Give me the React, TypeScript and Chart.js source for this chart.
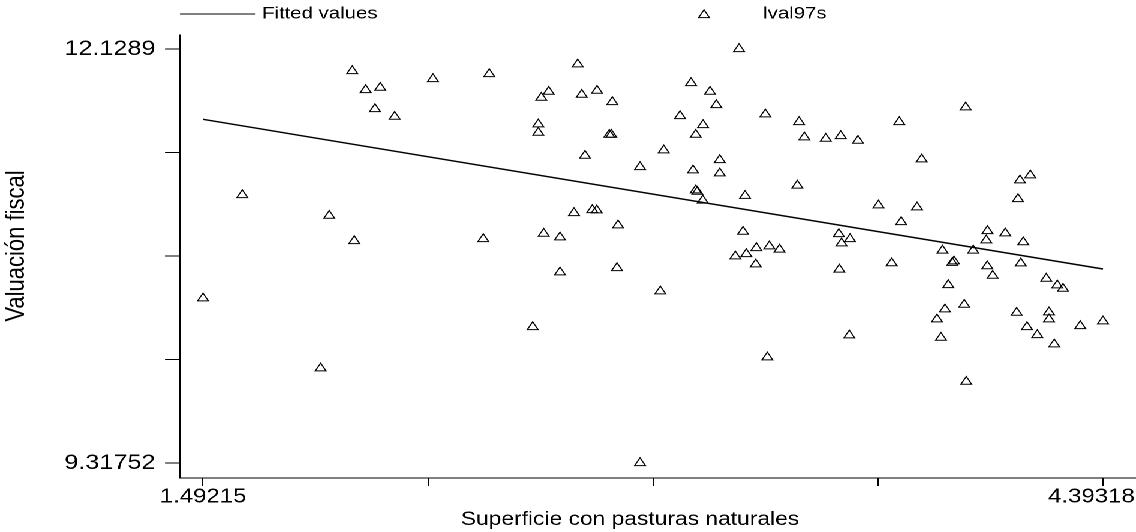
import React, { useEffect, useRef } from 'react';
import { Chart, registerables } from 'chart.js';

Chart.register(...registerables);

// ---- data ----
const seriesNames = ['Fitted values', 'lval97s'];
const xTitle = 'Superficie con pasturas naturales';
const yTitle = 'Valuación fiscal';

const xValues = [
  1.49215, 1.6188, 1.8715, 1.8993, 1.9734, 1.9799, 2.0166, 2.0466, 2.0637, 2.1101, 2.2335, 2.3957, 2.415,
  2.5549, 2.573, 2.573, 2.5826, 2.5904, 2.6065, 2.6429, 2.6429, 2.688, 2.7, 2.7129, 2.7235, 2.747, 2.7612, 2.7622,
  2.8018, 2.8083, 2.8115, 2.8266, 2.8299, 2.9008, 2.9008, 2.9662, 2.9772, 3.0297, 3.0652, 3.0716, 3.0803, 3.0803,
  3.0855, 3.1029, 3.1039, 3.1264, 3.1467, 3.1577, 3.1577, 3.208, 3.2199, 3.2328, 3.2392, 3.2434, 3.2737, 3.2757,
  3.3047, 3.3111, 3.3176, 3.3504,
  3.4078, 3.4133, 3.4304, 3.4994, 3.5416, 3.5432, 3.5477, 3.5503, 3.5754, 3.5777, 3.6035, 3.6696, 3.7121, 3.7366,
  3.7427, 3.7937, 3.8088, 3.8581, 3.871, 3.8759, 3.8839, 3.8946, 3.9074, 3.9129, 3.9461, 3.9506, 3.9526, 3.9751,
  4.017, 4.0209, 4.0203, 4.0377, 4.0783, 4.115, 4.1192, 4.1257, 4.1282, 4.1363, 4.1482, 4.1589, 4.1814, 4.2104,
  4.2192, 4.2192, 4.2362, 4.2459, 4.2643, 4.32, 4.39318,
];

const yValues = [
  10.4359, 11.1374, 9.9606, 10.9969, 11.9795, 10.8251, 11.8505, 11.7214, 11.8661, 11.6691, 11.9252, 10.8386, 11.9591,
  10.241, 11.6175, 11.5605, 11.7982, 10.8746, 11.8389, 10.8502, 10.6125, 11.0152, 12.025, 11.8185, 11.4043, 11.0356,
  11.0335, 11.8457, 11.5469, 11.5469, 11.769, 10.6417, 10.9317, 11.3276, 9.31752, 10.4835, 11.441, 11.6739, 11.898,
  11.3052, 11.5469, 11.1694, 11.1599, 11.1001, 11.6128, 11.8389, 11.7486, 11.3751, 11.2848, 10.7212, 12.1289,
  10.8882, 11.132, 10.7368, 10.6668, 10.7775, 11.6854, 10.0353, 10.7891, 10.7673,
  11.2019, 11.6332, 11.5293, 11.5198, 10.8726, 10.6315, 11.5381, 10.8094, 10.1847, 10.8386, 11.5062, 11.0675,
  10.6743, 11.6332, 10.9541, 11.0539, 11.3799, 10.2933, 10.1684, 10.7605, 10.3612, 10.5263, 10.677, 10.6872,
  10.3925, 11.733, 9.8696, 10.7605, 10.8298, 10.893, 10.6539, 10.5894, 10.8773, 10.3382, 11.1103, 11.2372, 10.6736,
  10.8169, 10.241, 11.2712, 10.1867, 10.5697, 10.3409, 10.2933, 10.1236, 10.5242, 10.5011, 10.2478, 10.2798,
];

const fitX = [1.49215, 4.39318];
const fitY = [11.6515, 10.6349];

const xTickValues = [1.49215, 2.21741, 2.94267, 3.66792, 4.39318];
const xTickLabels = ['1.49215', '', '', '', '4.39318'];
const yTickValues = [9.31752, 10.02036, 10.72321, 11.42605, 12.1289];
const yTickLabels = ['9.31752', '', '', '', '12.1289'];

const xRange = [1.41801, 4.49955];
const yRange = [9.21566, 12.22397];

// ---- layout ----
const SCREEN_W = 1136;
const CANVAS_W = 947;
const H = 532;
const S = SCREEN_W / CANVAS_W;
const FONT = '"Liberation Sans", Arial, Helvetica, sans-serif';

const overlayPlugin = {
  id: 'overlay',
  afterDraw(chart: any) {
    const ctx = chart.ctx as CanvasRenderingContext2D;
    const xs = chart.scales.x;
    ctx.save();
    ctx.fillStyle = '#000';
    ctx.strokeStyle = '#000';

    // x tick labels (kept inside the canvas like the reference)
    ctx.font = `20px ${FONT}`;
    ctx.textBaseline = 'middle';
    ctx.textAlign = 'center';
    xTickValues.forEach((v, i) => {
      const label = xTickLabels[i];
      if (!label) return;
      const w = ctx.measureText(label).width;
      let px = xs.getPixelForValue(v);
      px = Math.min(px, CANVAS_W - 1 - w / 2);
      ctx.fillText(label, px, 497);
    });

    // legend
    ctx.font = `17px ${FONT}`;
    ctx.textAlign = 'left';
    ctx.lineWidth = 1;
    ctx.beginPath();
    ctx.moveTo(180 / S, 14);
    ctx.lineTo(255 / S, 14);
    ctx.stroke();
    ctx.fillText(seriesNames[0], 262 / S, 14);
    const r = 5.2;
    const mx = 704 / S;
    const my = 15;
    ctx.beginPath();
    ctx.moveTo(mx, my - r);
    ctx.lineTo(mx + r * Math.sin((2 * Math.PI) / 3), my - r * Math.cos((2 * Math.PI) / 3));
    ctx.lineTo(mx + r * Math.sin((4 * Math.PI) / 3), my - r * Math.cos((4 * Math.PI) / 3));
    ctx.closePath();
    ctx.stroke();
    ctx.fillText(seriesNames[1], 763 / S, 14);

    // axis titles
    ctx.textAlign = 'center';
    ctx.font = `19px ${FONT}`;
    ctx.fillText(xTitle, 630 / S, 520);
    ctx.font = `22px ${FONT}`;
    ctx.translate(17 / S, 246);
    ctx.rotate(-Math.PI / 2);
    ctx.fillText(yTitle, 0, 0);
    ctx.restore();
  },
};

export default function App() {
  const ref = useRef<HTMLCanvasElement | null>(null);

  useEffect(() => {
    if (!ref.current) return;
    const points = xValues.map((x, i) => ({ x, y: yValues[i] }));
    const fit = fitX.map((x, i) => ({ x, y: fitY[i] }));
    const tickFont = { family: FONT, size: 21 };

    const chart = new Chart(ref.current, {
      type: 'scatter',
      data: {
        datasets: [
          {
            type: 'line',
            label: seriesNames[0],
            data: fit,
            borderColor: '#000',
            borderWidth: 1.5,
            pointRadius: 0,
            fill: false,
            showLine: true,
          } as any,
          {
            type: 'scatter',
            label: seriesNames[1],
            data: points,
            pointStyle: 'triangle',
            pointRadius: 5.2,
            borderColor: '#000',
            borderWidth: 1,
            backgroundColor: 'rgba(0,0,0,0)',
          } as any,
        ],
      },
      options: {
        responsive: false,
        animation: false,
        devicePixelRatio: 2,
        layout: { autoPadding: false, padding: { top: 35, left: 0, right: 0, bottom: 0 } },
        plugins: {
          legend: { display: false },
          tooltip: { enabled: false },
          title: { display: false },
        },
        scales: {
          x: {
            type: 'linear',
            min: xRange[0],
            max: xRange[1],
            afterBuildTicks: (s: any) => {
              s.ticks = xTickValues.map((v) => ({ value: v }));
            },
            afterFit: (s: any) => {
              s.height = H - 478;
              s.paddingLeft = 0;
              s.paddingRight = 0;
            },
            ticks: {
              autoSkip: false,
              maxRotation: 0,
              minRotation: 0,
              color: '#000',
              font: tickFont,
              padding: 1,
              callback: () => '',
            },
            grid: { drawOnChartArea: false, drawTicks: true, tickLength: 8, tickColor: '#000', tickWidth: 1 },
            border: { display: true, color: '#000', width: 1 },
          },
          y: {
            type: 'linear',
            min: yRange[0],
            max: yRange[1],
            afterBuildTicks: (s: any) => {
              s.ticks = yTickValues.map((v) => ({ value: v }));
            },
            afterFit: (s: any) => {
              s.width = 180 / S;
              s.paddingTop = 0;
              s.paddingBottom = 0;
            },
            ticks: {
              autoSkip: false,
              color: '#000',
              font: tickFont,
              padding: 8,
              callback: (_v: any, i: number) => yTickLabels[i],
            },
            grid: { drawOnChartArea: false, drawTicks: true, tickLength: 12.5, tickColor: '#000', tickWidth: 1 },
            border: { display: true, color: '#000', width: 1 },
          },
        },
      } as any,
      plugins: [overlayPlugin],
    });
    return () => chart.destroy();
  }, []);

  return (
    <div
      style={{
        position: 'fixed',
        left: 0,
        top: 0,
        width: CANVAS_W,
        height: H,
        transform: `scaleX(${S})`,
        transformOrigin: '0 0',
        background: '#fff',
      }}
    >
      <canvas ref={ref} width={CANVAS_W} height={H} style={{ display: 'block' }} />
    </div>
  );
}
